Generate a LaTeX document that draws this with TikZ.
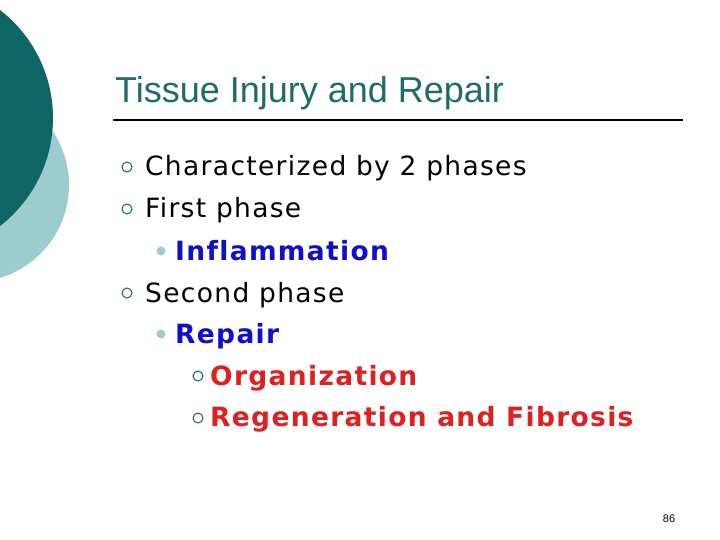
\documentclass[tikz,border=0pt]{standalone}
\usepackage{fontspec}
\setmainfont{DejaVu Sans}[LetterSpace=5,Ligatures=NoCommon]
\newfontfamily\titlefont{Liberation Sans}
\definecolor{teal1}{HTML}{0E6664}
\definecolor{teal2}{HTML}{9DCCCE}
\definecolor{titlec}{HTML}{1F6B6B}
\definecolor{blueb}{HTML}{1010CC}
\definecolor{redb}{HTML}{E02020}
\begin{document}
\begin{tikzpicture}[x=1pt,y=-1pt,
  body/.style={anchor=base west,inner sep=0pt,font=\fontsize{26.5}{30}\selectfont},
  bodyb/.style={anchor=base west,inner sep=0pt,font=\bfseries\fontsize{26.5}{30}\selectfont},
  hb/.style={draw=teal1,line width=1pt,circle,inner sep=0pt,minimum size=10pt},
  fb/.style={fill=teal2,circle,inner sep=0pt,minimum size=9pt}]
\useasboundingbox (0,0) rectangle (720,540);
\fill[teal2] (-28,185) circle (97);
\fill[teal1] (-83.5,118) circle (136.5);
\node[anchor=base west,inner sep=0pt,text=titlec,font=\titlefont\fontsize{36}{40}\selectfont] (title) at (115,103) {Tissue Injury and Repair};
\draw[line width=1.8pt] (113,120) -- (683,120);
\node[hb] (b1) at (127,167) {};
\node[body] (t1) at (145,176) {Characterized by 2 phases};
\node[hb] (b2) at (127,209) {};
\node[body] (t2) at (145,218) {First phase};
\node[fb] (b3) at (161,251) {};
\node[bodyb,text=blueb] (t3) at (175,260) {Inflammation};
\node[hb] (b4) at (127,293) {};
\node[body] (t4) at (145,302) {Second phase};
\node[fb] (b5) at (161,334) {};
\node[bodyb,text=blueb] (t5) at (175,343) {Repair};
\node[hb] (b6) at (198,376) {};
\node[bodyb,text=redb] (t6) at (210,385) {Organization};
\node[hb] (b7) at (198,418) {};
\node[bodyb,text=redb] (t7) at (210,426) {Regeneration and Fibrosis};
\node[anchor=base,inner sep=0pt,font=\titlefont\fontsize{11}{13}\selectfont] (pg) at (669,522) {86};
\end{tikzpicture}
\end{document}
